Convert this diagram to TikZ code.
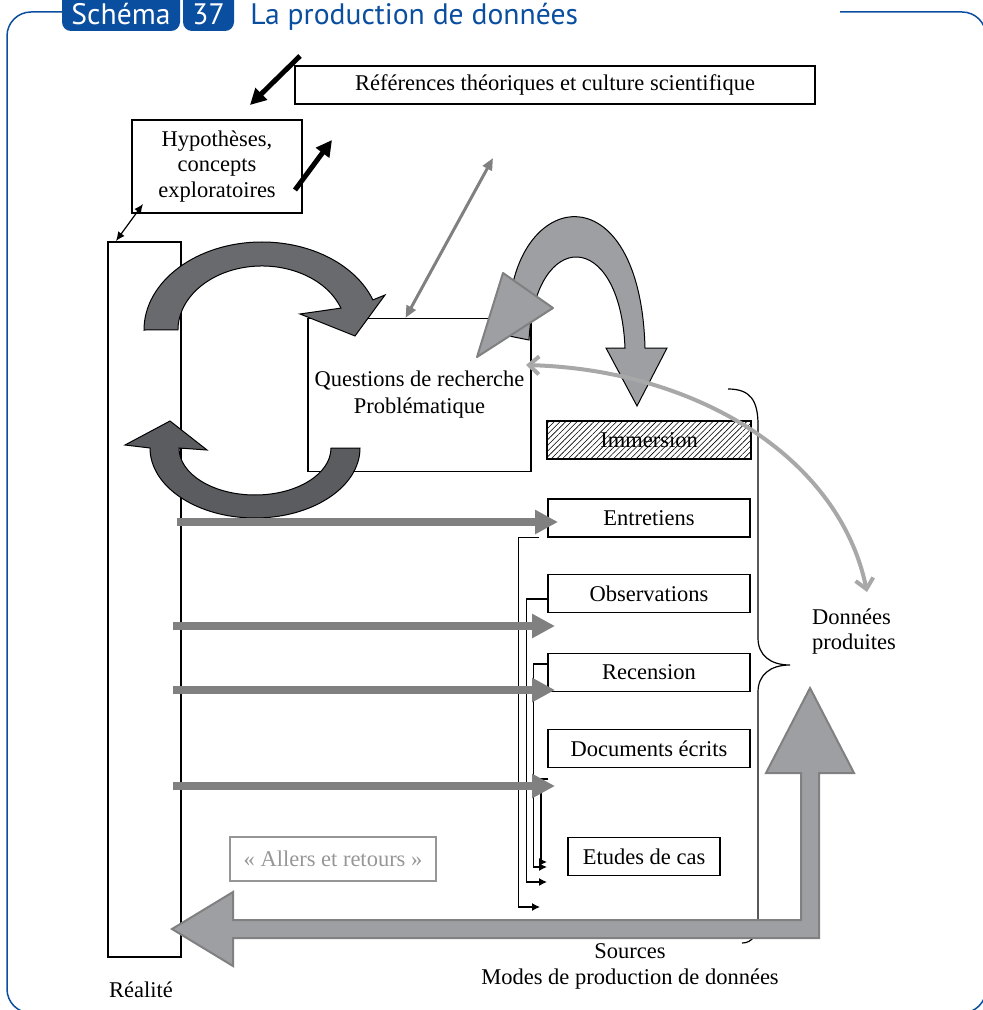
\documentclass[tikz,border=0pt]{standalone}
\usepackage{fontspec}
\setmainfont{Liberation Serif}
\newfontfamily\titlefont{PT Sans}
\usetikzlibrary{arrows.meta,patterns.meta}
\definecolor{titleblue}{RGB}{10,78,160}
\definecolor{arrowgray}{RGB}{128,128,128}
\definecolor{bandgray}{RGB}{104,106,110}
\definecolor{banddark}{RGB}{90,92,96}
\definecolor{bandlight}{RGB}{157,159,163}
\definecolor{loopgray}{RGB}{168,168,168}
\definecolor{softgray}{RGB}{150,150,150}

\begin{document}
\begin{tikzpicture}[
      x=0.5pt,y=-0.5pt,
      font=\fontsize{11.25}{12.75}\selectfont,
      box/.style={draw, line width=0.6pt, inner sep=0pt, align=center, minimum width=101pt, minimum height=19pt},
      titletxt/.style={font=\titlefont\fontsize{14.8}{17}\selectfont, inner sep=0pt},
      band/.style={draw=black, line width=0.5pt},
      fatarrow/.style={draw=arrowgray, line width=4pt, -{Triangle[length=11.5pt,width=11.5pt]}},
      blackarrow/.style={line width=2.5pt, -{Triangle[length=8pt,width=8pt]}},
      link/.style={line width=0.6pt, -{Latex[length=4pt,width=4pt]}}
    ]
      \useasboundingbox (0,0) rectangle (983,1010);
      \clip (0,0) rectangle (983,1010);
      % cadre et titre
      \draw[titleblue, line width=0.75pt, rounded corners=12pt] (62,12) -- (7,12) -- (7,1013) -- (986,1013) -- (986,12) -- (840,12);
      \fill[titleblue, rounded corners=4.5pt] (62,-20) rectangle (180,31);
      \fill[titleblue, rounded corners=4.5pt] (183,-20) rectangle (234,31);
      \node[titletxt, text=white, anchor=base] (schema) at (121,25) {Schéma};
      \node[titletxt, text=white, anchor=base] (num) at (208.5,25) {37};
      \node[titletxt, text=titleblue, anchor=base west] (titre) at (250,25) {La production de données};
      % boites
      \node[box, minimum width=260pt] (ref) at (555,85) {Références théoriques et culture scientifique};
      \node[box, minimum width=85pt, minimum height=46.5pt] (hyp) at (217,166.5) {Hypothèses,\\concepts\\exploratoires};
      \node[box, minimum width=36.5pt, minimum height=357.5pt] (real) at (144.5,599.5) {};
      \node (realtxt) at (141,990) {Réalité};
      \node[box, minimum width=111.5pt, minimum height=76.5pt, font=\fontsize{11.25}{13.5}\selectfont] (ques) at (419.5,395) {Questions de recherche\\Problématique};
      \fill[white] (547,421) rectangle (751,459);
      \draw[line width=0.6pt, pattern={Lines[angle=45,distance=2pt,line width=0.3pt]}] (547,421) rectangle (751,459);
      \node[box, draw=none, minimum width=102pt] (imm) at (649,440) {Immersion};
      \node[box] (ent) at (649,518) {Entretiens};
      \node[box] (obs) at (649,593.5) {Observations};
      \node[box] (rec) at (649,672.5) {Recension};
      \node[box] (doc) at (649,748.5) {Documents écrits};
      \node[box, minimum width=76pt] (etu) at (644,856.5) {Etudes de cas};
      \node[box, draw=softgray, text=softgray, minimum width=103pt, minimum height=22pt] (aller) at (333,859) {« Allers et retours »};
      \node[anchor=west, align=left] (donnees) at (805,631.5) {Données\\produites};
      \node[align=center] (src) at (630,966.5) {Sources\\Modes de production de données};
      % accolade
      \draw[line width=0.6pt] (728,389) .. controls (750,389) and (758,400) .. (758,425) -- (758,638)
        .. controls (758,655) and (770,665) .. (790,665) .. controls (770,665) and (758,675) .. (758,692)
        -- (758,918) .. controls (758,935) and (752,943) .. (742,943);
      % fleches noires
      \coordinate (b1) at (300,56); \coordinate (b2) at (250,105);
      \coordinate (b3) at (295,190); \coordinate (b4) at (332,140);
      \draw[blackarrow] (b1) -- (b2);
      \draw[blackarrow] (b3) -- (b4);
      \coordinate (h1) at (143,204); \coordinate (h2) at (116,241);
      \draw[line width=0.6pt, {Latex[length=4.5pt,width=4pt]}-{Latex[length=4.5pt,width=4pt]}] (h1) -- (h2);
      \coordinate (r1) at (493,158);
      \draw[arrowgray, line width=1.5pt, {Triangle[length=6pt,width=5pt]}-{Triangle[length=6pt,width=5pt]}] ([xshift=-7pt]ques.north) -- (r1);
      % liens des sources
      \coordinate (e1) at (540,907); \coordinate (e2) at (547,882);
      \coordinate (e3) at (547,867); \coordinate (e4) at (547,862);
      \coordinate (d1) at (548,779);
      \draw[link] ([xshift=-4pt]ent.south west) -- ++(-21,0) |- (e1);
      \draw[link] ([yshift=-2.75pt]obs.west) -- ++(-21,0) |- (e2);
      \draw[link] ([yshift=4.25pt]rec.west) -- ++(-14,0) |- (e3);
      \draw[link] (d1) -- ++(-7,0) |- (e4);
      % fleches courbes
      \filldraw[band, fill=bandgray] (144,330) arc[start angle=180, end angle=340, x radius=118, y radius=88]
        -- (385,295) -- (355,336) -- (300,314) -- (340.9,308.1)
        arc[start angle=340, end angle=180, x radius=84, y radius=64] -- cycle;
      \filldraw[band, fill=banddark] (331,448) -- (360,448) arc[start angle=0, end angle=180, x radius=105, y radius=70]
        -- (125,445) -- (170,421) -- (207,450) -- (179,448)
        arc[start angle=180, end angle=0, x radius=76, y radius=47] -- cycle;
      \filldraw[band, fill=bandlight] (529,340) -- (509,336) .. controls (500,190) and (640,160) .. (645,348)
        -- (667,348) -- (637,406) -- (606,348) -- (625,348) .. controls (620,228) and (535,228) .. (529,340) -- cycle;
      \filldraw[draw=arrowgray, fill=bandlight, line width=1pt, line join=round] (503,273) -- (553,308) -- (477,357) -- cycle;
      % fleches grises
      \coordinate (a1) at (177,522); \coordinate (t1) at (558,522);
      \coordinate (a2) at (173,626); \coordinate (t2) at (555,626);
      \coordinate (a3) at (173,690); \coordinate (t3) at (555,690);
      \coordinate (a4) at (173,786); \coordinate (t4) at (555,786);
      \draw[fatarrow] (a1) -- (t1);
      \draw[fatarrow] (a2) -- (t2);
      \draw[fatarrow] (a3) -- (t3);
      \draw[fatarrow] (a4) -- (t4);
      \coordinate (q1) at (526,365); \coordinate (q2) at (867,592);
      \draw[loopgray, line width=2pt, line cap=round, {Straight Barb[length=5pt,width=9pt]}-{Straight Barb[length=5pt,width=9pt]}]
        (q1) .. controls (700,370) and (840,460) .. (q2);
      % grande fleche en L
      \filldraw[draw=arrowgray, fill=bandlight, line width=1pt] (801,773) -- (766,773) -- (810,688) -- (854,773) -- (819,773)
        -- (819,938) -- (233,938) -- (233,966) -- (172,929) -- (233,892) -- (233,920) -- (801,920) -- cycle;
    \end{tikzpicture}
\end{document}
